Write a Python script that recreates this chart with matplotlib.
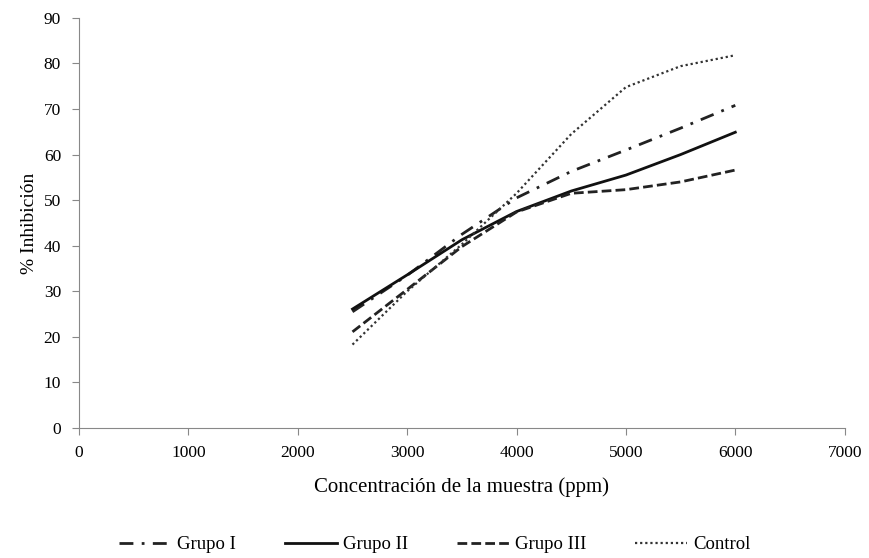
from matplotlib import pyplot as plt

# concentration (ppm) and % inhibition
conc = [2500, 3000, 3500, 4000, 4500, 5000, 5500, 6000]

grupo1 = [25.5, 33.5, 42.5, 50.5, 56.3, 61.0, 65.8, 70.8]
grupo2 = [26.1, 33.6, 41.3, 47.5, 52.0, 55.5, 60.0, 64.9]
grupo3 = [21.1, 30.4, 39.8, 47.4, 51.5, 52.3, 54.0, 56.6]
control = [18.3, 30.0, 40.3, 51.5, 64.5, 74.8, 79.4, 81.8]

plt.rcParams['font.family'] = ['Liberation Serif', 'DejaVu Serif']

fig = plt.figure(figsize=(8.69, 5.58), dpi=100)
ax = fig.add_axes([0.091, 0.233, 0.881, 0.735])

ax.plot(conc, grupo1, color='#222222', lw=2.0, linestyle=(0, (5, 3, 1, 3)), label='Grupo I')
ax.plot(conc, grupo2, color='#111111', lw=2.0, linestyle='-', label='Grupo II')
ax.plot(conc, grupo3, color='#222222', lw=2.0, linestyle=(0, (3.5, 1.5)), label='Grupo III')
ax.plot(conc, control, color='#333333', lw=1.6, linestyle=(0, (1, 1.3)), label='Control')

ax.set_xlim(0, 7000)
ax.set_ylim(0, 90)
ax.set_xticks(range(0, 7001, 1000))
ax.set_yticks(range(0, 91, 10))

for s in ['top', 'right']:
    ax.spines[s].set_visible(False)
for s in ['left', 'bottom']:
    ax.spines[s].set_color('#888888')
ax.tick_params(colors='#888888', labelcolor='black', labelsize=12.5, length=5)
ax.tick_params(axis='x', pad=7)
ax.tick_params(axis='y', pad=8)

ax.set_xlabel('Concentración de la muestra (ppm)', fontsize=15, labelpad=12)
ax.set_ylabel('% Inhibición', fontsize=14, labelpad=4)

fig.legend(loc='lower center', ncol=4, frameon=False, fontsize=13.5,
           handlelength=2.8, handletextpad=0.3, columnspacing=2.6,
           bbox_to_anchor=(0.5, -0.022))

fig.savefig('out.png', dpi=100)
